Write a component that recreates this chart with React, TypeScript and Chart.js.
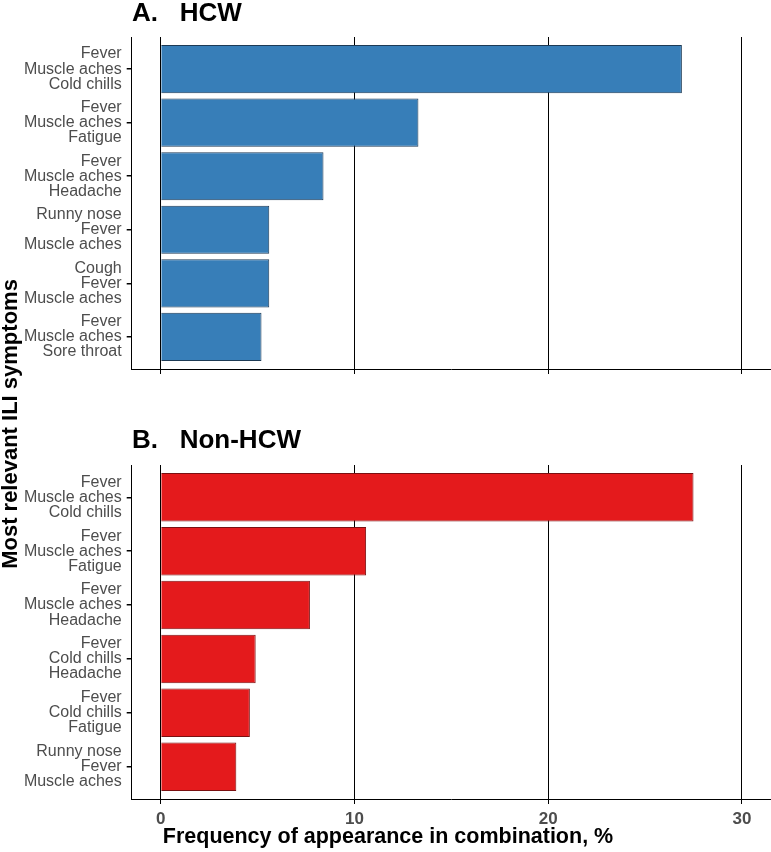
import React, { useEffect, useRef } from "react";
import { Chart, registerables } from "chart.js";

Chart.register(...registerables);

// ---- data ----
const hcwLabels: string[][] = [
  ["Fever", "Muscle aches", "Cold chills"],
  ["Fever", "Muscle aches", "Fatigue"],
  ["Fever", "Muscle aches", "Headache"],
  ["Runny nose", "Fever", "Muscle aches"],
  ["Cough", "Fever", "Muscle aches"],
  ["Fever", "Muscle aches", "Sore throat"],
];
const hcwValues: number[] = [26.9, 13.3, 8.4, 5.6, 5.6, 5.2];

const nonHcwLabels: string[][] = [
  ["Fever", "Muscle aches", "Cold chills"],
  ["Fever", "Muscle aches", "Fatigue"],
  ["Fever", "Muscle aches", "Headache"],
  ["Fever", "Cold chills", "Headache"],
  ["Fever", "Cold chills", "Fatigue"],
  ["Runny nose", "Fever", "Muscle aches"],
];
const nonHcwValues: number[] = [27.5, 10.6, 7.7, 4.9, 4.6, 3.9];

const xTickValues: number[] = [0, 10, 20, 30];
const panelTitles: string[] = ["A.   HCW", "B.   Non-HCW"];
const xAxisTitle = "Frequency of appearance in combination, %";
const yAxisTitle = "Most relevant ILI symptoms";

// ---- styling ----
const W = 771;
const H = 852;
const FAMILY = '"Liberation Sans", Arial, Helvetica, sans-serif';
const BLUE = "#377EB8";
const BLUE_EDGE = "#1d3a55";
const RED = "#E41A1C";
const RED_EDGE = "#7a1011";

type PanelOpts = {
  labels: string[][];
  values: number[];
  color: string;
  edge: string;
  padTop: number;
  padBottom: number;
  xAxisHeight: number;
  showXLabels: boolean;
  textPlugin: any;
};

function makeConfig(o: PanelOpts): any {
  return {
    type: "bar",
    data: {
      datasets: [
        {
          data: o.values.map((v, i) => ({ x: v, y: i })),
          backgroundColor: o.color,
          borderColor: o.edge,
          borderWidth: 1,
          barPercentage: 0.9,
          categoryPercentage: 1,
        },
      ],
    },
    options: {
      indexAxis: "y",
      responsive: false,
      animation: false,
      events: [],
      layout: { padding: { top: o.padTop, bottom: o.padBottom, left: 0, right: 0 } },
      plugins: {
        legend: { display: false },
        tooltip: { enabled: false },
        title: { display: false },
      },
      scales: {
        x: {
          type: "linear",
          min: -1.5,
          max: 31.5,
          afterBuildTicks: (s: any) => {
            s.ticks = xTickValues.map((v) => ({ value: v }));
          },
          afterFit: (s: any) => {
            s.height = o.xAxisHeight;
          },
          grid: { color: "#000", lineWidth: 1, drawTicks: true, tickLength: 5 },
          border: { display: true, color: "#000", width: 1 },
          ticks: {
            display: o.showXLabels,
            padding: 5,
            color: "#4d4d4d",
            font: { family: FAMILY, size: 17, weight: "bold" },
          },
          title: { display: false },
        },
        y: {
          type: "linear",
          reverse: true,
          offset: false,
          min: -0.6,
          max: 5.6,
          afterBuildTicks: (s: any) => {
            s.ticks = o.labels.map((_, i) => ({ value: i }));
          },
          afterFit: (s: any) => {
            s.width = 131.7;
          },
          grid: {
            offset: false,
            drawOnChartArea: false,
            drawTicks: true,
            tickLength: 5,
            color: "#000",
            lineWidth: 1.5,
          },
          border: { display: true, color: "#000", width: 1 },
          ticks: {
            autoSkip: false,
            padding: 5,
            color: "#4d4d4d",
            font: { family: FAMILY, size: 16, lineHeight: 0.94 },
            callback: (v: any) => o.labels[v as number],
          },
          title: { display: false },
        },
      },
    },
    plugins: [o.textPlugin],
  };
}

const titleAPlugin = {
  id: "titleA",
  afterDraw(chart: any) {
    const ctx = chart.ctx;
    ctx.save();
    ctx.fillStyle = "#000";
    ctx.font = `bold 26px ${FAMILY}`;
    ctx.textAlign = "left";
    ctx.textBaseline = "alphabetic";
    ctx.fillText(panelTitles[0], 132, 20.7);
    ctx.restore();
  },
};

const titleBPlugin = {
  id: "titleB",
  afterDraw(chart: any) {
    const ctx = chart.ctx;
    ctx.save();
    ctx.fillStyle = "#000";
    ctx.font = `bold 26px ${FAMILY}`;
    ctx.textAlign = "left";
    ctx.textBaseline = "alphabetic";
    ctx.fillText(panelTitles[1], 132, 447.5);
    // x axis title
    ctx.font = `bold 21.5px ${FAMILY}`;
    ctx.textAlign = "center";
    ctx.fillText(xAxisTitle, 388, 843);
    // y axis title
    ctx.translate(17, 424);
    ctx.rotate(-Math.PI / 2);
    ctx.font = `bold 22px ${FAMILY}`;
    ctx.textAlign = "center";
    ctx.fillText(yAxisTitle, 0, 0);
    ctx.restore();
  },
};

export default function App() {
  const refA = useRef<HTMLCanvasElement | null>(null);
  const refB = useRef<HTMLCanvasElement | null>(null);

  useEffect(() => {
    if (!refA.current || !refB.current) return;
    const chartA = new Chart(
      refA.current,
      makeConfig({
        labels: hcwLabels,
        values: hcwValues,
        color: BLUE,
        edge: BLUE_EDGE,
        padTop: 37,
        padBottom: H - 369 - 10,
        xAxisHeight: 10,
        showXLabels: false,
        textPlugin: titleAPlugin,
      })
    );
    const chartB = new Chart(
      refB.current,
      makeConfig({
        labels: nonHcwLabels,
        values: nonHcwValues,
        color: RED,
        edge: RED_EDGE,
        padTop: 465,
        padBottom: 0,
        xAxisHeight: H - 799,
        showXLabels: true,
        textPlugin: titleBPlugin,
      })
    );
    return () => {
      chartA.destroy();
      chartB.destroy();
    };
  }, []);

  const canvasStyle: React.CSSProperties = {
    position: "absolute",
    left: 0,
    top: 0,
    width: W,
    height: H,
  };

  return (
    <div style={{ position: "absolute", left: 0, top: 0, width: W, height: H, background: "#fff" }}>
      <canvas ref={refA} width={W} height={H} style={canvasStyle} />
      <canvas ref={refB} width={W} height={H} style={canvasStyle} />
    </div>
  );
}
